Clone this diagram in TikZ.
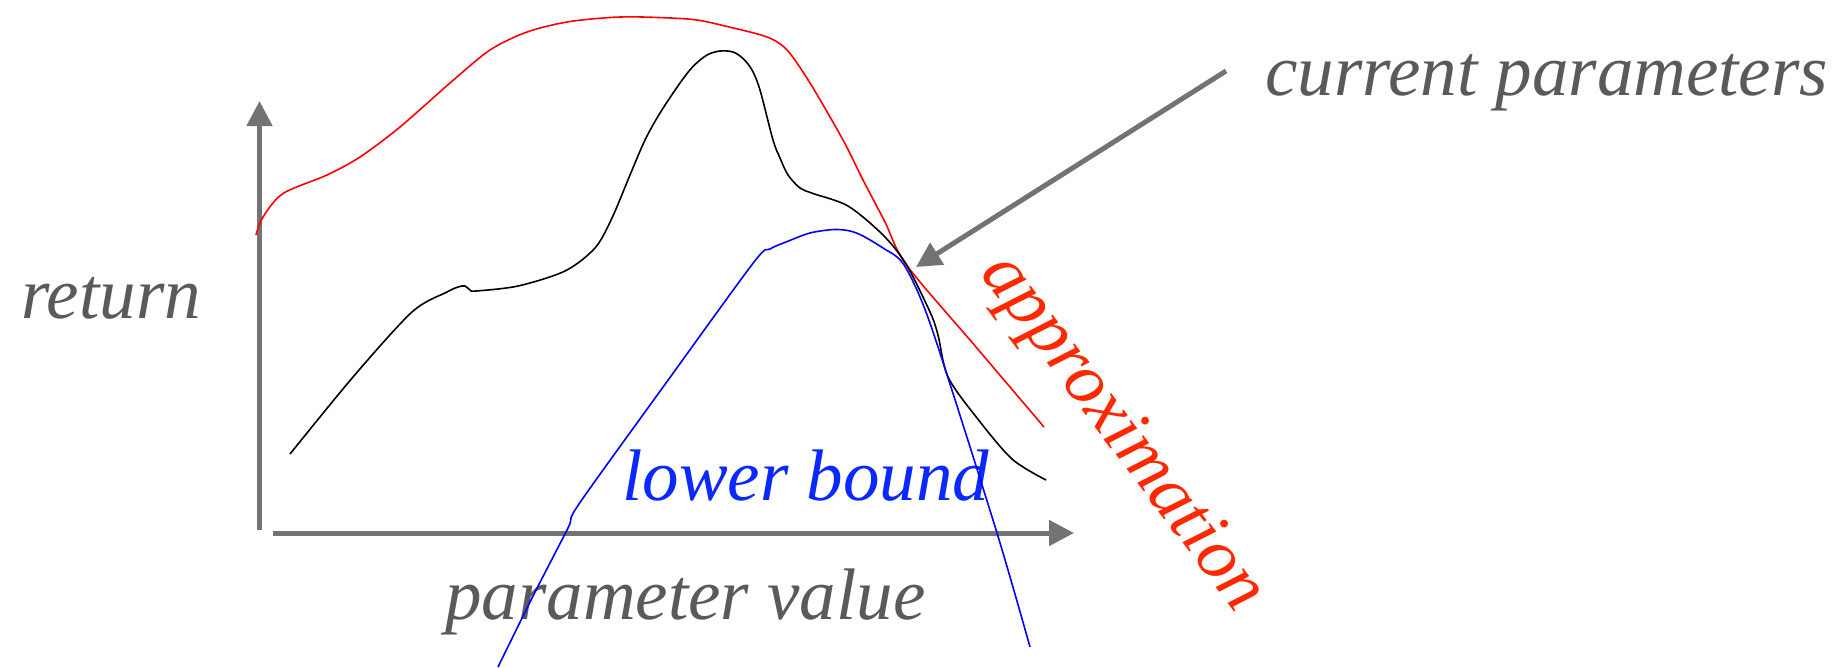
\documentclass[tikz,border=0pt]{standalone}
\usepackage{fontspec}
\setmainfont{Liberation Serif}
\usetikzlibrary{arrows.meta}
\definecolor{axisgray}{RGB}{115,115,115}
\definecolor{textgray}{RGB}{90,90,90}
\definecolor{approxred}{RGB}{255,40,0}
\definecolor{boundblue}{RGB}{10,40,255}
\begin{document}
\begin{tikzpicture}[x=1pt,y=-1pt,
  axis/.style={draw=axisgray, line width=5pt, -{Triangle[length=25pt,width=25pt]}},
  lbl/.style={font=\fontsize{73pt}{80pt}\selectfont\itshape, inner sep=0pt},
  curve/.style={line width=1.6pt, line join=round}]
\useasboundingbox (0,0) rectangle (1846,667);
% axes
\coordinate (yfoot) at (259.5,530);
\coordinate (ytip) at (259.5,101);
\coordinate (xfoot) at (273,533);
\coordinate (xtip) at (1074,533);
\draw[axis] (yfoot) -- (ytip);
\draw[axis] (xfoot) -- (xtip);
% labels
\node[lbl, text=textgray, anchor=base west] (ret) at (21,318) {return};
\node[lbl, text=textgray, anchor=base west] (pv) at (445,619) {parameter value};
\node[lbl, text=boundblue, anchor=base west] (lb) at (622,500) {lower bound};
\node[lbl, text=textgray, anchor=base west] (cp) at (1265,95) {current parameters};
\node[lbl, text=approxred, anchor=base west, rotate=-53] (ap) at (979,273) {approximation};
% red approximation
\draw[curve, red] plot[smooth, tension=0.5] coordinates {
 (256,235) (263,217) (283,193.5) (327,175) (360,157) (400,127) (450,83)
 (490,50) (527,32) (567,22) (610,17.5) (642,17) (693,19.5) (727,26.5)
 (767,37) (787,50) (810,83) (843,140) (863,180) (885,222) (906.5,265)
 (976,347) (1044,427)};
% black return
\draw[curve, black] plot[smooth, tension=0.5] coordinates {
 (290,454) (353,377) (412,312) (447,292) (458,287) (465,286) (470,290)
 (476,291) (518,286) (565,271) (595,248) (612,218) (630,175) (645,140)
 (660,113) (680,83) (693,66.5) (707,55) (720,51) (733,52) (743,58.5)
 (752,70) (760,90) (773,140) (780,158) (788,175) (800,188)
 (813,193.5) (848,206) (883,235) (906,264) (930,312) (938,335) (948,377)
 (977,418) (1012,459) (1046,480)};
% blue lower bound
\draw[curve, blue] plot[smooth, tension=0.5] coordinates {
 (498,667) (533,596) (568,528) (579,504) (666,383) (754,262) (770,249)
 (786,242) (810,233) (834,229.5) (850,231) (863,236) (883,248) (902,262)
 (920,297) (940,353) (997,533) (1030,647)};
% pointer
\coordinate (cpstart) at (1226,71);
\coordinate (cptip) at (916,267);
\draw[axis] (cpstart) -- (cptip);
\end{tikzpicture}
\end{document}
